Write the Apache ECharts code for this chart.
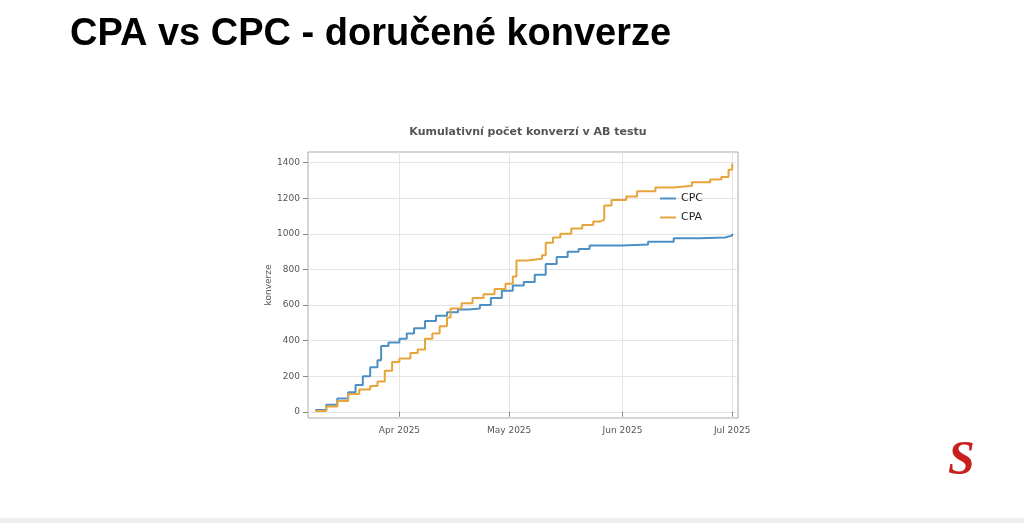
<!DOCTYPE html>
<html>
<head>
<meta charset="utf-8">
<script src="https://cdn.jsdelivr.net/npm/echarts@6/dist/echarts.min.js"></script>
<style>
body { margin: 0; background: #fff; font-family: 'Liberation Sans', Arial, sans-serif; }
#chart { width: 1024px; height: 523px; }
</style>
</head>
<body>
<div id="chart"></div>
<script>
// cumulative conversions
const cpcDates = ['2025-03-09','2025-03-12','2025-03-15','2025-03-18','2025-03-20','2025-03-22','2025-03-24','2025-03-26','2025-03-27','2025-03-29','2025-04-01','2025-04-03','2025-04-05','2025-04-08','2025-04-11','2025-04-14','2025-04-17','2025-04-20','2025-04-23','2025-04-26','2025-04-29','2025-05-02','2025-05-05','2025-05-08','2025-05-11','2025-05-14','2025-05-17','2025-05-20','2025-05-23','2025-06-01','2025-06-08','2025-06-15','2025-06-22','2025-06-29','2025-07-01'];
const cpcValues = [10,40,75,110,150,200,250,290,370,390,410,440,470,510,540,560,575,580,600,640,680,710,730,770,830,870,900,915,935,940,955,975,980,990,1000];
const cpaDates = ['2025-03-09','2025-03-12','2025-03-15','2025-03-18','2025-03-21','2025-03-24','2025-03-26','2025-03-28','2025-03-30','2025-04-01','2025-04-04','2025-04-06','2025-04-08','2025-04-10','2025-04-12','2025-04-14','2025-04-15','2025-04-18','2025-04-21','2025-04-24','2025-04-27','2025-04-30','2025-05-02','2025-05-03','2025-05-06','2025-05-10','2025-05-11','2025-05-13','2025-05-15','2025-05-18','2025-05-21','2025-05-24','2025-05-26','2025-05-27','2025-05-29','2025-06-02','2025-06-05','2025-06-10','2025-06-15','2025-06-20','2025-06-25','2025-06-28','2025-06-30','2025-07-01'];
const cpaValues = [5,30,60,100,125,145,170,230,280,300,330,350,410,440,480,530,580,610,640,660,690,720,760,850,860,880,950,980,1000,1030,1050,1070,1080,1160,1190,1210,1240,1260,1270,1290,1305,1320,1360,1395];
const yTicks = [0,200,400,600,800,1000,1200,1400];
const xTicks = ['2025-04-01','2025-05-01','2025-06-01','2025-07-01'];
const monthNames = ['Jan','Feb','Mar','Apr','May','Jun','Jul','Aug','Sep','Oct','Nov','Dec'];

const chart = echarts.init(document.getElementById('chart'));
const ms = d => Date.parse(d + 'T00:00:00Z');
const pair = (d, v) => d.map((x, i) => [ms(x), v[i]]);
const xTickMs = xTicks.map(ms);

chart.setOption({
    animation: false,
    title: [
        { text: 'CPA vs CPC - doručené konverze', left: 65, top: 11,
          textStyle: { fontSize: 38, fontWeight: 'bold', color: '#000', fontFamily: 'Liberation Sans' } },
        { text: 'Kumulativní počet konverzí v AB testu', left: 523, top: 122, textAlign: 'center',
          textStyle: { fontSize: 11, fontWeight: 'bold', color: '#555', fontFamily: 'DejaVu Sans' } }
    ],
    legend: {
        orient: 'vertical', left: 655, top: 188, itemWidth: 16, itemHeight: 2, itemGap: 8,
        icon: 'rect', textStyle: { fontSize: 11, color: '#222', fontFamily: 'DejaVu Sans' },
        data: ['CPC', 'CPA']
    },
    grid: { left: 308, right: 286, top: 152, bottom: 105, show: true, borderColor: '#aaa', borderWidth: 1 },
    xAxis: {
        type: 'value', min: ms('2025-03-07'), max: ms('2025-07-02') + 14 * 3600e3,
        axisLine: { show: false },
        axisTick: { show: true, customValues: xTickMs, lineStyle: { color: '#888' } },
        axisLabel: { customValues: xTickMs, color: '#555', fontSize: 9, fontFamily: 'DejaVu Sans',
            formatter: v => monthNames[new Date(v).getUTCMonth()] + ' 2025' },
        splitLine: { show: true, lineStyle: { color: '#e4e4e4' } }
    },
    yAxis: {
        type: 'value', min: -35, max: 1460, name: 'konverze', nameLocation: 'middle', nameGap: 30,
        nameTextStyle: { fontSize: 9, color: '#555', fontFamily: 'DejaVu Sans' },
        axisLine: { show: false },
        axisTick: { show: true, customValues: yTicks, lineStyle: { color: '#888' } },
        axisLabel: { customValues: yTicks, color: '#555', fontSize: 9, fontFamily: 'DejaVu Sans',
            formatter: v => String(v) },
        splitLine: { show: true, lineStyle: { color: '#e4e4e4' } }
    },
    series: [
        { name: 'CPC', type: 'line', step: 'end', showSymbol: false, color: '#4c8fc4',
          lineStyle: { width: 2 }, data: pair(cpcDates, cpcValues) },
        { name: 'CPA', type: 'line', step: 'end', showSymbol: false, color: '#e5a53a',
          lineStyle: { width: 2 }, data: pair(cpaDates, cpaValues) }
    ],
    graphic: [
        { type: 'text', left: 948, top: 438,
          style: { text: 'S', fontSize: 48, fontWeight: 'bold', fontStyle: 'italic', fill: '#c8201e', fontFamily: 'Liberation Serif' } },
        { type: 'rect', left: 0, top: 518, shape: { width: 1024, height: 5 }, style: { fill: '#eee' } }
    ]
});
</script>
</body>
</html>
